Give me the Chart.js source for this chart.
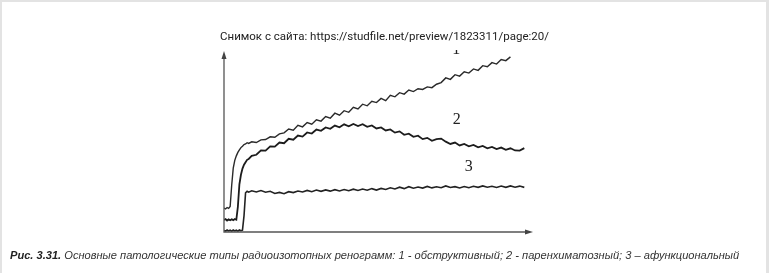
<!DOCTYPE html>
<html>
<head>
<meta charset="utf-8">
<script src="https://cdn.jsdelivr.net/npm/chart.js@4"></script>
<style>
  html, body { margin: 0; padding: 0; background: #e3e3e3; }
  #marco { position: absolute; left: 2px; top: 2px; width: 764px; height: 271px; background: #fff; }
  #grafico { position: absolute; left: 0; top: 0; }
  #fuente { position: absolute; left: 0; width: 769px; top: 29px; text-align: center;
    font-family: Roboto, sans-serif; font-size: 11.5px; color: #222; }
  #pie { position: absolute; left: 10px; top: 249px; white-space: nowrap;
    font-family: "Liberation Sans", Arial, sans-serif; font-size: 11.1px; font-style: italic; color: #333; }
  #pie b { color: #222; }
</style>
</head>
<body>
<div id="marco"></div>
<canvas id="grafico" width="769" height="273"></canvas>
<div id="fuente">Снимок с сайта: https://studfile.net/preview/1823311/page:20/</div>
<div id="pie"><b>Рис. 3.31.</b> Основные патологические типы радиоизотопных ренограмм: 1 - обструктивный; 2 - паренхиматозный; 3 – афункциональный</div>

<script>
// tiempo (unidades arbitrarias), mismo eje para las tres curvas
const tiempo = [0, 0.5, 1, 1.5, 2, 2.5, 3, 3.5, 4, 4.5, 5, 5.5, 6, 6.5, 7, 7.5, 8,
  9, 10.5, 12, 13.5, 15, 16.5, 18, 19.5, 21, 22.5, 24, 25.5, 27, 28.5, 30, 31.5, 33, 34.5, 36, 37.5,
  39, 40.5, 42, 43.5, 45, 46.5, 48, 49.5, 51, 52.5, 54, 55.5, 57, 58.5, 60, 61.5, 63, 64.5, 66, 67.5,
  69, 70.5, 72, 73.5, 75, 76.5, 78, 79.5, 81, 82.5, 84, 85.5, 87, 88.5, 90, 91.5, 93, 94.5, 96, 97.5]

// 1 - obstructivo
const curva1 = [13.3, 12.8, 13.6, 13.1, 14.2, 26.0, 35.5, 39.8, 42.3, 44.2, 45.6, 46.9, 47.7, 48.6, 48.9, 49.6, 49.2,
  50.1, 49.7, 51.2, 51.4, 52.9, 52.6, 54.5, 55.1, 57.2, 56.6, 59.3, 58.4, 60.8, 59.9, 62.3, 61.6, 64.1, 63.2, 66.0, 64.9,
  67.4, 66.5, 69.3, 68.4, 71.0, 70.1, 72.6, 71.9, 74.2, 73.0, 75.9, 75.1, 77.4, 76.6, 78.9, 78.0, 79.6, 79.2, 80.6, 80.2,
  82.1, 83.0, 85.6, 84.8, 87.4, 86.6, 89.0, 88.3, 90.6, 89.8, 92.4, 91.8, 94.1, 93.3, 95.8, 95.2, 97.3, null, null, null]

// 2 - parenquimatoso
const curva2 = [6.7, 7.2, 6.4, 7.0, 6.5, 7.1, 6.6, 7.2, 6.8, 14.0, 26.5, 31.8, 35.2, 37.4, 38.8, 40.1, 40.6,
  42.3, 42.9, 45.3, 45.2, 47.6, 47.4, 49.7, 49.3, 51.8, 51.3, 53.6, 53.0, 55.3, 54.7, 56.9, 56.2, 58.1, 57.3, 59.1, 58.2,
  59.8, 58.7, 60.0, 58.9, 59.9, 58.4, 59.2, 57.5, 58.1, 56.4, 57.0, 55.2, 55.9, 54.0, 54.6, 52.9, 53.5, 51.6, 52.3, 50.7,
  51.6, 51.9, 50.2, 48.9, 49.7, 48.1, 48.9, 47.6, 48.4, 47.0, 47.8, 46.5, 47.3, 46.1, 46.9, 45.7, 46.5, 45.3, 45.2, 46.6]

// 3 - afuncional
const curva3 = [0.9, 0.5, 1.1, 0.6, 1.0, 0.5, 1.1, 0.6, 1.0, 0.5, 1.1, 0.7, 1.0, 9.0, 21.8, 22.6, 22.1,
  22.9, 22.2, 23.0, 22.1, 22.6, 21.4, 22.0, 21.3, 22.4, 21.9, 22.8, 22.2, 23.1, 22.4, 23.3, 22.6, 23.4, 22.7, 23.5, 22.8,
  23.6, 22.9, 23.8, 23.1, 23.9, 23.2, 24.1, 23.3, 24.2, 23.6, 24.6, 23.9, 24.9, 24.1, 25.2, 24.3, 25.0, 24.4, 25.3, 24.5,
  25.1, 24.6, 25.6, 24.7, 25.2, 24.5, 25.3, 24.6, 25.4, 24.8, 25.6, 24.9, 25.4, 24.7, 25.5, 24.8, 25.6, 24.9, 25.5, 24.8]

// etiquetas de cada curva: texto, tiempo, valor
const etiquetas = ['1', '2', '3']
const etiquetaX = [75.4, 75.6, 79.5]
const etiquetaY = [101, 62.2, 36.1]

function armarPuntos(valores) {
  return tiempo.map((t, i) => ({ x: t, y: valores[i] }))
}

// ejes con flecha y numeros de las curvas
const ejesPlugin = {
  id: 'ejes',
  afterDatasetsDraw(chart) {
    const ctx = chart.ctx
    const a = chart.chartArea
    ctx.save()
    ctx.strokeStyle = '#555'
    ctx.fillStyle = '#444'
    ctx.lineWidth = 1.3
    ctx.beginPath()
    ctx.moveTo(a.left, a.top + 3)
    ctx.lineTo(a.left, a.bottom)
    ctx.lineTo(a.right - 4, a.bottom)
    ctx.stroke()
    // flecha y
    ctx.beginPath()
    ctx.moveTo(a.left, a.top - 1)
    ctx.lineTo(a.left - 2.5, a.top + 7)
    ctx.lineTo(a.left + 2.5, a.top + 7)
    ctx.closePath()
    ctx.fill()
    // flecha x
    ctx.beginPath()
    ctx.moveTo(a.right + 1, a.bottom)
    ctx.lineTo(a.right - 7, a.bottom - 2.5)
    ctx.lineTo(a.right - 7, a.bottom + 2.5)
    ctx.closePath()
    ctx.fill()

    // el "1" queda cortado arriba, como en la imagen
    ctx.beginPath()
    ctx.rect(0, a.top - 2, chart.width, chart.height)
    ctx.clip()
    ctx.fillStyle = '#222'
    ctx.font = '16px "Liberation Serif", serif'
    ctx.textAlign = 'center'
    ctx.textBaseline = 'middle'
    etiquetas.forEach((txt, i) => {
      const px = chart.scales.x.getPixelForValue(etiquetaX[i])
      const py = chart.scales.y.getPixelForValue(etiquetaY[i])
      ctx.fillText(txt, px, py)
    })
    ctx.restore()
  }
}

const config = {
  type: 'line',
  data: {
    datasets: [
      { label: '1', data: armarPuntos(curva1), borderColor: '#2a2a2a', borderWidth: 1.4 },
      { label: '2', data: armarPuntos(curva2), borderColor: '#1c1c1c', borderWidth: 1.8 },
      { label: '3', data: armarPuntos(curva3), borderColor: '#222', borderWidth: 1.6 }
    ]
  },
  options: {
    responsive: false,
    animation: false,
    devicePixelRatio: 1,
    layout: { padding: { left: 224, right: 237, top: 52, bottom: 41 } },
    elements: { point: { radius: 0 }, line: { tension: 0 } },
    plugins: { legend: { display: false }, tooltip: { enabled: false } },
    scales: {
      x: { type: 'linear', min: 0, max: 100, display: false },
      y: { min: 0, max: 100, display: false }
    }
  },
  plugins: [ejesPlugin]
}

const myChart = new Chart(document.getElementById('grafico'), config)
</script>
</body>
</html>
